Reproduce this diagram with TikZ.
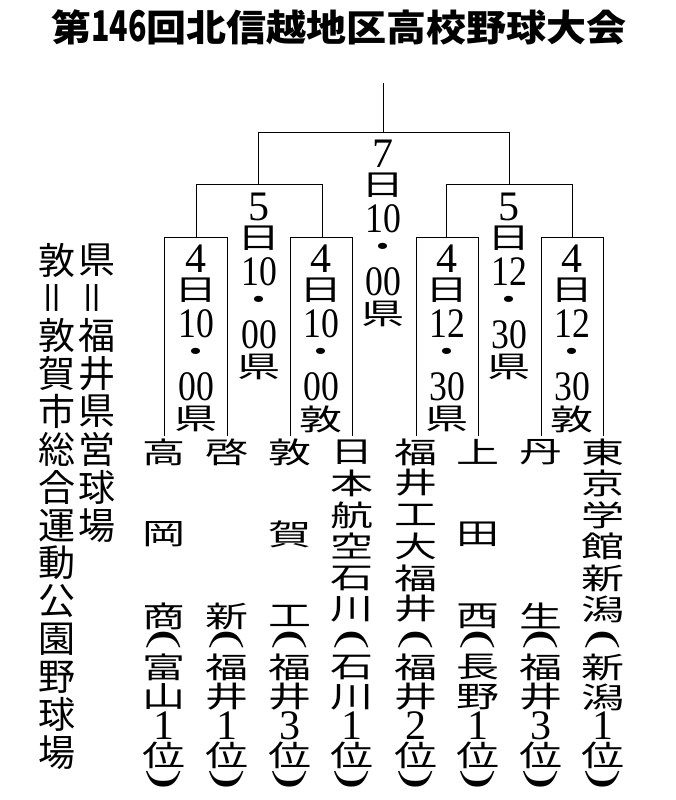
\documentclass[tikz,border=0pt]{standalone}
\usepackage{fontspec}
\newfontfamily\jp{Noto Sans CJK JP}
\newfontfamily\dgf{Liberation Serif}
\tikzset{
  ln/.style={line width=1pt, line cap=rect},
  tm/.style={inner sep=0pt, font=\jp\fontsize{43}{43}\selectfont},
  dg/.style={inner sep=0pt, font=\dgf\fontsize{42}{42}\selectfont},
  pr/.style={inner sep=0pt, rotate=-90, font=\dgf\fontsize{38}{38}\selectfont},
  nt/.style={inner sep=0pt, font=\jp\fontsize{37}{37}\selectfont},
  ttl/.style={inner sep=0pt, font=\jp\bfseries\fontsize{40}{40}\selectfont},
}
\newcommand\fl[1]{\scalebox{1}[0.68]{#1}}
\newcommand\lab[7]{%
  \node[dg] (#3a) at (#1,#2) {#4};
  \node[tm] (#3b) at (#1,{#2+31}) {\fl{日}};
  \node[dg] (#3c) at (#1,{#2+65}) {\scalebox{0.85}[1]{#5}};
  \node[tm] (#3d) at (#1,{#2+96}) {\fl{・}};
  \node[dg] (#3e) at (#1,{#2+128}) {\scalebox{0.85}[1]{#6}};
  \node[tm] (#3f) at (#1,{#2+160}) {\fl{#7}};
}
\newcommand\pgroup[5]{%
  \node[pr] (#2p1) at (#1,640) {\scalebox{1.6}[1]{(}};
  \node[tm] (#2p2) at (#1,667.5) {\fl{#3}};
  \node[tm] (#2p3) at (#1,697) {\fl{#4}};
  \node[dg] (#2p4) at (#1,725.5) {#5};
  \node[tm] (#2p5) at (#1,755) {\fl{位}};
  \node[pr] (#2p6) at (#1,780) {\scalebox{1.6}[1]{)}};
}
\begin{document}
\begin{tikzpicture}[x=1pt,y=-1pt]
\useasboundingbox (0,0) rectangle (675,800);
\fill[white] (0,0) rectangle (675,800);

% title
\node[ttl] (title) at (339,27) {\scalebox{1}[0.92]{第\scalebox{0.66}[1]{\fontsize{46}{46}\selectfont 146}回北信越地区高校野球大会}};

% bracket coordinates
\coordinate (ft) at (383,83);
\coordinate (fj) at (383,132);
\coordinate (sl) at (258,132);
\coordinate (sr) at (509,132);
\coordinate (slb) at (258,184);
\coordinate (srb) at (509,184);
\coordinate (q1) at (196,184);
\coordinate (q2) at (322,184);
\coordinate (q3) at (446,184);
\coordinate (q4) at (572,184);
\coordinate (q1b) at (196,237);
\coordinate (q2b) at (322,237);
\coordinate (q3b) at (446,237);
\coordinate (q4b) at (572,237);
\foreach \k/\xl/\xr in {1/164/227,2/290/352,3/416/478,4/541/603}{
  \coordinate (b\k tl) at (\xl,237);
  \coordinate (b\k tr) at (\xr,237);
  \coordinate (b\k bl) at (\xl,435);
  \coordinate (b\k br) at (\xr,435);
}

\draw[ln] (ft) -- (fj);
\draw[ln] (slb) -- (sl) -- (sr) -- (srb);
\draw[ln] (q1b) -- (q1) -- (q2) -- (q2b);
\draw[ln] (q3b) -- (q3) -- (q4) -- (q4b);
\draw[ln] (b1bl) -- (b1tl) -- (b1tr) -- (b1br);
\draw[ln] (b2bl) -- (b2tl) -- (b2tr) -- (b2br);
\draw[ln] (b3bl) -- (b3tl) -- (b3tr) -- (b3br);
\draw[ln] (b4bl) -- (b4tl) -- (b4tr) -- (b4br);

% schedule labels
\lab{383}{154}{fin}{7}{10}{00}{県}
\lab{259}{207}{sfl}{5}{10}{00}{県}
\lab{509}{207}{sfr}{5}{12}{30}{県}
\lab{196}{259}{qa}{4}{10}{00}{県}
\lab{321}{259}{qb}{4}{10}{00}{敦}
\lab{447}{259}{qc}{4}{12}{30}{県}
\lab{572}{259}{qd}{4}{12}{30}{敦}

% teams
\foreach \yy/\c [count=\i] in {452/高,534/岡,616/商} \node[tm] (ta\i) at (164,\yy) {\fl{\c}};
\pgroup{164}{ta}{富}{山}{1}
\foreach \yy/\c [count=\i] in {452/啓,616/新} \node[tm] (tb\i) at (227,\yy) {\fl{\c}};
\pgroup{227}{tb}{福}{井}{1}
\foreach \yy/\c [count=\i] in {452/敦,534/賀,616/工} \node[tm] (tc\i) at (290,\yy) {\fl{\c}};
\pgroup{290}{tc}{福}{井}{3}
\foreach \yy/\c [count=\i] in {452/日,483/本,515/航,546/空,578/石,609/川} \node[tm] (td\i) at (352,\yy) {\fl{\c}};
\pgroup{352}{td}{石}{川}{1}
\foreach \yy/\c [count=\i] in {452/福,483/井,515/工,546/大,578/福,609/井} \node[tm] (te\i) at (416,\yy) {\fl{\c}};
\pgroup{416}{te}{福}{井}{2}
\foreach \yy/\c [count=\i] in {452/上,534/田,616/西} \node[tm] (tf\i) at (478,\yy) {\fl{\c}};
\pgroup{478}{tf}{長}{野}{1}
\foreach \yy/\c [count=\i] in {452/丹,616/生} \node[tm] (tg\i) at (541,\yy) {\fl{\c}};
\pgroup{541}{tg}{福}{井}{3}
\foreach \yy/\c [count=\i] in {452/東,483/京,515/学,546/館,578/新,609/潟} \node[tm] (th\i) at (603,\yy) {\fl{\c}};
\pgroup{603}{th}{新}{潟}{1}

% venue notes
\foreach \c/\r [count=\i from 0] in {県/0,＝/90,福/0,井/0,県/0,営/0,球/0,場/0}
  \node[nt, rotate=\r] (na\i) at (97,{260+37.9*\i}) {\c};
\foreach \c/\r [count=\i from 0] in {敦/0,＝/90,敦/0,賀/0,市/0,総/0,合/0,運/0,動/0,公/0,園/0,野/0,球/0,場/0}
  \node[nt, rotate=\r] (nb\i) at (57,{260+37.9*\i}) {\c};
\end{tikzpicture}
\end{document}
